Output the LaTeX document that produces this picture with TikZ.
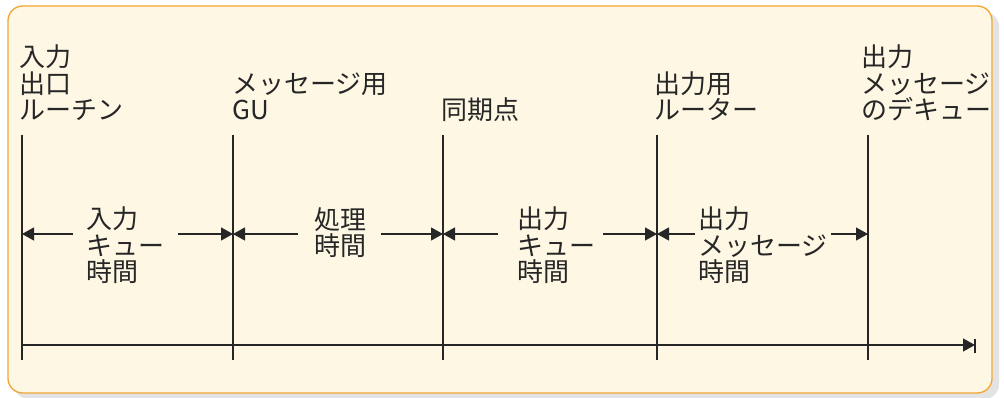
\documentclass[tikz,border=0pt]{standalone}
\usepackage{fontspec}
\setmainfont{Noto Sans CJK JP}
\usetikzlibrary{arrows.meta}

\definecolor{boxfill}{HTML}{FDF7E4}
\definecolor{boxline}{HTML}{F2A634}
\definecolor{ink}{HTML}{262626}

\tikzset{
  lbl/.style={anchor=base west, inner sep=0pt, align=left, text=ink,
    font=\fontsize{19.5pt}{20pt}\selectfont},
  tline/.style={draw=ink, line width=0.8pt},
  span/.style={draw=ink, line width=0.9pt, -{Triangle[length=9pt,width=9.75pt]}},
}

\begin{document}
\begin{tikzpicture}[x=0.75pt,y=-0.75pt]
\useasboundingbox (0,0) rectangle (1004,398);

% panel
\fill[black!11, rounded corners=11pt] (14,12) rectangle (999,399);
\draw[boxline, fill=boxfill, line width=1pt, rounded corners=11pt] (8,6) rectangle (992,393);

% time points
\coordinate (T1) at (22,135);
\coordinate (B1) at (22,360);
\coordinate (T2) at (233,135);
\coordinate (B2) at (233,360);
\coordinate (T3) at (443,135);
\coordinate (B3) at (443,360);
\coordinate (T4) at (657,135);
\coordinate (B4) at (657,360);
\coordinate (T5) at (868,135);
\coordinate (B5) at (868,360);

\draw[tline] (T1) -- (B1);
\draw[tline] (T2) -- (B2);
\draw[tline] (T3) -- (B3);
\draw[tline] (T4) -- (B4);
\draw[tline] (T5) -- (B5);

% labels sit on the baseline of their last line
\node[lbl] (inrt) at (19,120) {入力\\出口\\ルーチン};
\node[lbl] (msggu) at (232,120) {メッセージ用\\GU};
\node[lbl] (sync) at (441,120) {同期点};
\node[lbl] (outrt) at (654,120) {出力用\\ルーター};
\node[lbl] (deq) at (861,120) {出力\\メッセージ\\のデキュー};

% intervals
\node[lbl] (qin) at (86,282) {入力\\キュー\\時間};
\node[lbl] (proc) at (314,256) {処理\\時間};
\node[lbl] (qout) at (517,282) {出力\\キュー\\時間};
\node[lbl] (msgout) at (698,282) {出力\\メッセージ\\時間};

\coordinate (A1) at (T1 |- 0,234);
\coordinate (A2) at (T2 |- 0,234);
\coordinate (A3) at (T3 |- 0,234);
\coordinate (A4) at (T4 |- 0,234);
\coordinate (A5) at (T5 |- 0,234);
\coordinate (g1l) at (73,234);
\coordinate (g1r) at (178,234);
\coordinate (g2l) at (298,234);
\coordinate (g2r) at (381,234);
\coordinate (g3l) at (498,234);
\coordinate (g3r) at (603,234);
\coordinate (g4l) at (695,234);
\coordinate (g4r) at (831,234);

\draw[span] (g1l) -- (A1);
\draw[span] (g1r) -- (A2);
\draw[span] (g2l) -- (A2);
\draw[span] (g2r) -- (A3);
\draw[span] (g3l) -- (A3);
\draw[span] (g3r) -- (A4);
\draw[span] (g4l) -- (A4);
\draw[span] (g4r) -- (A5);

% time axis
\coordinate (ax0) at (T1 |- 0,345);
\coordinate (ax1) at (975,345);
\draw[span] (ax0) -- (ax1);
\draw[tline] (975,339) -- (975,353);
\end{tikzpicture}
\end{document}
